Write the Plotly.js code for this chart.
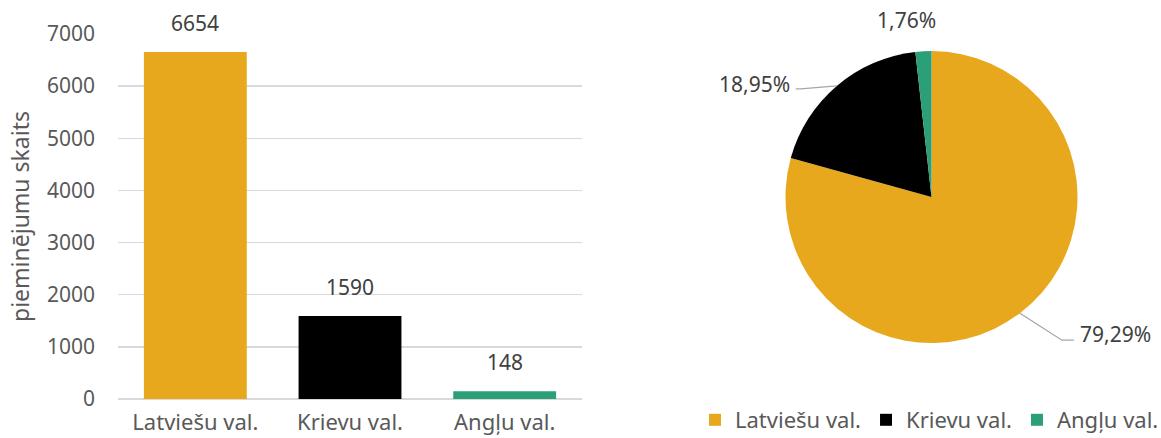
<!DOCTYPE html>
<html><head><meta charset="utf-8">
<script src="https://cdn.plot.ly/plotly-3.0.1.min.js"></script>
<style>html,body{margin:0;padding:0;background:#fff}#chart{width:1161px;height:438px}</style>
</head><body><div id="chart"></div>
<script>
const categories = ["Latviešu val.", "Krievu val.", "Angļu val."];
const counts = [6654, 1590, 148];
const colors = ["#E8A81D", "#000000", "#2BA078"];
const yTicks = [0, 1000, 2000, 3000, 4000, 5000, 6000, 7000];
const yTitle = "pieminējumu skaits";

const W = 1161, H = 438;
const FONT = "Noto Sans, Open Sans, sans-serif";
const tickColor = "#595959";
const labelColor = "#404040";

// pie geometry (pixels)
const pcx = 931.5, pcy = 197, pr = 146;
const px = v => v / W, py = v => 1 - v / H;

const total = counts.reduce((a, b) => a + b, 0);
let cum = 0;
const mids = counts.map(c => { const m = (cum + c / 2) / total * 360; cum += c; return m; });
const fmt = v => (v * 100).toFixed(2).replace('.', ',') + '%';

// leader layout per slice: [elbow dx, elbow dy, end dx, text anchor, text dy, draw line]
const leader = [
  [42, 27, 54, 'left', -6, true],
  [-36, 3, -41, 'right', -5, true],
  [-17, -31, -17, 'center', 0, false]
];

const annotations = [];
const shapes = [];
categories.forEach((c, i) => {
  annotations.push({
    xref: 'x', yref: 'y', x: c, y: counts[i], text: String(counts[i]),
    showarrow: false, yanchor: 'bottom', yshift: 13,
    font: {family: FONT, size: 21, color: labelColor}
  });
  const th = mids[i] * Math.PI / 180;
  const ex = pcx + pr * Math.sin(th), ey = pcy - pr * Math.cos(th);
  const [edx, edy, endx, anchor, tdy, line] = leader[i];
  const bx = ex + edx, by = ey + edy, fx = ex + endx;
  if (line) {
    shapes.push({type: 'path', xref: 'paper', yref: 'paper',
      path: `M ${px(ex)} ${py(ey)} L ${px(bx)} ${py(by)} L ${px(fx)} ${py(by)}`,
      line: {color: '#a6a6a6', width: 1.3}});
  }
  annotations.push({
    xref: 'paper', yref: 'paper',
    x: px(line ? fx + (anchor === 'left' ? 4 : -4) : fx), y: py(by + tdy),
    xanchor: anchor, yanchor: 'middle',
    text: fmt(counts[i] / total), showarrow: false,
    font: {family: FONT, size: 21, color: labelColor}
  });
});

const data = [
  {type: 'bar', x: categories, y: counts, marker: {color: colors}, showlegend: false,
   hoverinfo: 'x+y', xaxis: 'x', yaxis: 'y'},
  {type: 'pie', labels: categories, values: counts, marker: {colors: colors},
   sort: false, direction: 'clockwise', rotation: 0, textinfo: 'none',
   domain: {x: [px(pcx - pr), px(pcx + pr)], y: [py(pcy + pr), py(pcy - pr)]},
   showlegend: true}
];

const layout = {
  width: W, height: H, margin: {l: 0, r: 0, t: 0, b: 0, autoexpand: false},
  paper_bgcolor: '#fff', plot_bgcolor: '#fff',
  font: {family: FONT, color: tickColor, size: 21},
  separators: ', ',
  bargap: 0.335,
  xaxis: {domain: [px(118), px(582)], showgrid: false, zeroline: false, showline: false,
          automargin: false,
          ticks: '', tickfont: {size: 22, color: tickColor}, ticklabelstandoff: 8},
  yaxis: {domain: [py(399), py(34)], range: [0, 7000], tickvals: yTicks, automargin: false,
          showgrid: true, gridcolor: '#d9d9d9', gridwidth: 1.5, zeroline: true,
          zerolinecolor: '#d9d9d9', zerolinewidth: 1.5, showline: false, ticks: '',
          tickfont: {size: 21, color: tickColor}, ticklabelstandoff: 22,
          title: {text: yTitle, font: {size: 23, color: tickColor}, standoff: 10}},
  legend: {orientation: 'h', x: px(695), xanchor: 'left', y: py(420), yanchor: 'middle',
           font: {size: 22, color: tickColor}, traceorder: 'normal', itemwidth: 30},
  shapes: shapes,
  annotations: annotations
};

Plotly.newPlot('chart', data, layout, {displayModeBar: false, staticPlot: true});
</script></body></html>
